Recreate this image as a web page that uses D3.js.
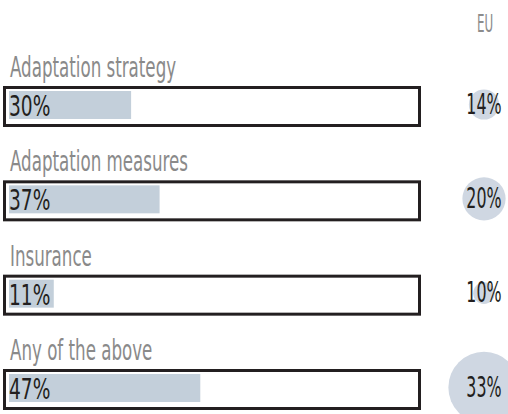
<!DOCTYPE html>
<html><head><meta charset="utf-8">
<script src="https://cdn.jsdelivr.net/npm/d3@7"></script>
<style>body{margin:0;background:#fff}svg{display:block}text{font-family:"DejaVu Sans Condensed","DejaVu Sans",sans-serif}</style>
</head><body>
<script>
const categories = ["Adaptation strategy","Adaptation measures","Insurance","Any of the above"];
const countryValues = [30,37,11,47];
const euValues = [14,20,10,33];
const euHeader = "EU";

const W=508,H=414;
const svg=d3.select("body").append("svg").attr("width",W).attr("height",H);
const y=d3.scalePoint().domain(categories).range([86,369]);
const x=d3.scaleLinear().domain([0,100]).range([9,416]);
const r=d3.scaleLinear().domain([0,100]).range([0,108]);
const cx=484;

function sText(sel,tx,ty,sx,anchor){
  return sel.attr("transform",`translate(${tx},${ty}) scale(${sx},1)`).attr("text-anchor",anchor||"start");
}

// header
sText(svg.append("text"),cx+1,32,0.55,"middle").attr("font-size",24).attr("fill","#8c8c8c").text(euHeader);

const g=svg.selectAll("g.row").data(categories).join("g").attr("class","row");
g.each(function(c,i){
  const s=d3.select(this), t=y(c);
  sText(s.append("text"),10,t-9,0.64,"start").attr("font-size",29).attr("fill","#8a8a8a").text(c);
  s.append("rect").attr("x",x(0)).attr("y",t+5).attr("width",x(countryValues[i])-x(0)).attr("height",28).attr("fill","#c3cfda");
  s.append("rect").attr("x",4.5).attr("y",t+1.5).attr("width",415).attr("height",38).attr("fill","none").attr("stroke","#231f20").attr("stroke-width",3);
  sText(s.append("text"),9,t+30,0.74,"start").attr("font-size",28).attr("fill","#231f20").text(countryValues[i]+"%");
  s.append("circle").attr("cx",cx).attr("cy",t+18.5).attr("r",r(euValues[i])).attr("fill","#cfd7e2");
  sText(s.append("text"),cx,t+27.5,0.63,"middle").attr("font-size",28).attr("fill","#231f20").text(euValues[i]+"%");
});
</script>
</body></html>
